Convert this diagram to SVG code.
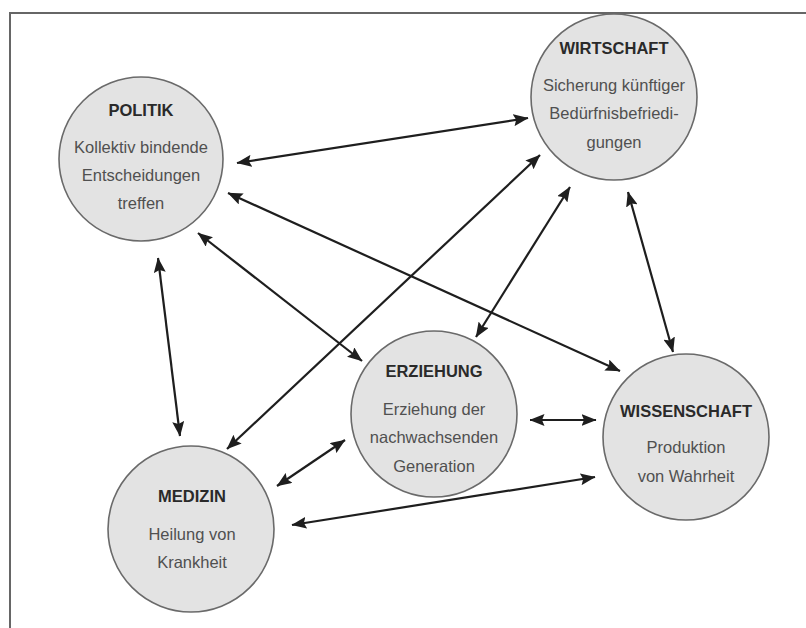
<svg xmlns="http://www.w3.org/2000/svg" width="806" height="628" viewBox="0 0 806 628">
<style>
.node{fill:#e3e3e3;stroke:#6a6a6a;stroke-width:1.6}
.title{font-family:"Liberation Sans",Arial,sans-serif;font-weight:bold;font-size:16.5px;fill:#2a2a2a;text-anchor:middle}
.body{font-family:"Liberation Sans",Arial,sans-serif;font-size:16.5px;fill:#505050;text-anchor:middle}
.conn{stroke:#1e1e1e;stroke-width:2.2;fill:none;marker-start:url(#ah);marker-end:url(#ah)}
</style>
<defs>
<marker id="ah" viewBox="0 0 15 12" markerWidth="15" markerHeight="12" refX="14.5" refY="6" markerUnits="userSpaceOnUse" orient="auto-start-reverse">
<path d="M0,0 L15,6 L0,12 L2.5,6 z" fill="#1e1e1e"/>
</marker>
</defs>
<rect width="806" height="628" fill="#ffffff"/>
<path d="M10,628 V13 H806" fill="none" stroke="#666" stroke-width="2"/>
<g id="connectors">
<line class="conn" x1="237" y1="163" x2="528" y2="118"/>
<line class="conn" x1="228" y1="193" x2="620" y2="371"/>
<line class="conn" x1="198" y1="233" x2="362" y2="361"/>
<line class="conn" x1="158" y1="258" x2="180" y2="436"/>
<line class="conn" x1="227" y1="449" x2="540" y2="155"/>
<line class="conn" x1="476" y1="337" x2="570" y2="187"/>
<line class="conn" x1="673" y1="352" x2="628" y2="192"/>
<line class="conn" x1="530" y1="420" x2="596" y2="420"/>
<line class="conn" x1="277" y1="486" x2="345" y2="440"/>
<line class="conn" x1="292" y1="525" x2="595" y2="477"/>
</g>
<g id="politik">
<circle class="node" cx="141" cy="159" r="82"/>
<text class="title" x="141" y="116">POLITIK</text>
<text class="body" x="141" y="153">Kollektiv bindende</text>
<text class="body" x="141" y="181">Entscheidungen</text>
<text class="body" x="141" y="209">treffen</text>
</g>
<g id="wirtschaft">
<circle class="node" cx="614" cy="97" r="83"/>
<text class="title" x="614" y="54">WIRTSCHAFT</text>
<text class="body" x="614" y="91">Sicherung künftiger</text>
<text class="body" x="614" y="119">Bedürfnisbefriedi-</text>
<text class="body" x="614" y="148">gungen</text>
</g>
<g id="medizin">
<circle class="node" cx="191" cy="529" r="83"/>
<text class="title" x="192" y="502">MEDIZIN</text>
<text class="body" x="192" y="540">Heilung von</text>
<text class="body" x="192" y="568">Krankheit</text>
</g>
<g id="erziehung">
<circle class="node" cx="434" cy="414" r="83"/>
<text class="title" x="434" y="377">ERZIEHUNG</text>
<text class="body" x="434" y="415">Erziehung der</text>
<text class="body" x="434" y="443">nachwachsenden</text>
<text class="body" x="434" y="472">Generation</text>
</g>
<g id="wissenschaft">
<circle class="node" cx="686" cy="437" r="83"/>
<text class="title" x="686" y="417">WISSENSCHAFT</text>
<text class="body" x="686" y="453">Produktion</text>
<text class="body" x="686" y="482">von Wahrheit</text>
</g>
</svg>
